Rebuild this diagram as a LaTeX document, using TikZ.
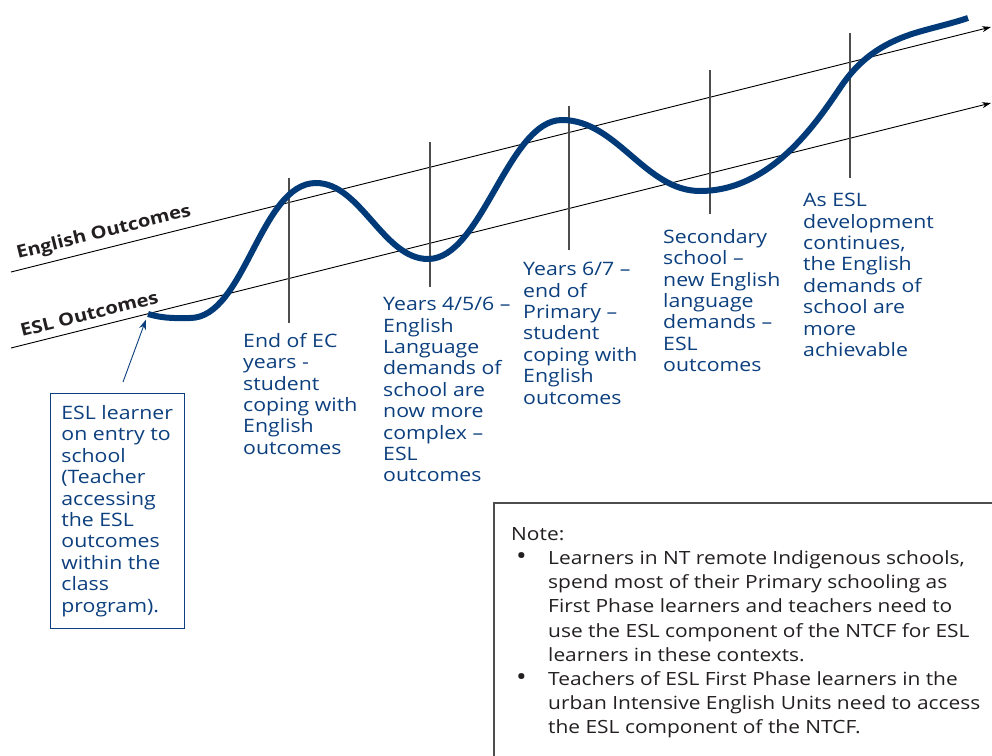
\documentclass[tikz,border=0pt]{standalone}
\usepackage{fontspec}
\setmainfont{Open Sans}[FakeStretch=1.15]
\usetikzlibrary{arrows.meta}
\definecolor{navy}{HTML}{003A78}
\definecolor{labelblue}{HTML}{0C3F7E}
\definecolor{inkgray}{HTML}{231F20}
\definecolor{rulegray}{HTML}{4D4D4D}
\newcommand{\notebullet}{\makebox[37pt][l]{\hspace*{5pt}\scalebox{1.35}{\textbullet}}}
\begin{document}
\begin{tikzpicture}[x=1pt,y=-1pt,
  stage/.style={anchor=north west, inner sep=0pt, align=left, text=labelblue,
    font=\fontsize{18.5}{21.4}\selectfont},
  outcome/.style={draw=black, line width=0.9pt, -{Stealth[length=9pt,width=6pt]}},
  tick/.style={draw=rulegray, line width=1.2pt},
  axislabel/.style={font=\bfseries\fontsize{17.5}{20}\selectfont, text=inkgray,
    rotate=14, anchor=base west, inner sep=0pt},
  growth/.style={draw=navy, line width=6pt, line cap=butt},
]
\useasboundingbox (0,0) rectangle (992,755);
\clip (0,0) rectangle (992,755);

% outcome reference lines
\coordinate (engL) at (11,272);
\coordinate (engR) at (991,27);
\coordinate (eslL) at (11,348);
\coordinate (eslR) at (991,103);
\draw[outcome] (engL) -- (engR);
\draw[outcome] (eslL) -- (eslR);
\node[axislabel] (englbl) at (18,259) {English Outcomes};
\node[axislabel] (esllbl) at (22,337) {ESL Outcomes};

% stage markers
\draw[tick] (289,178) -- (289,323);
\draw[tick] (430,142) -- (430,287);
\draw[tick] (569,106) -- (569,250);
\draw[tick] (710,70) -- (710,214);
\draw[tick] (850,33) -- (850,178);

% learner's progress curve
\coordinate (cstart) at (148,314);
\draw[growth] (cstart) .. controls (165,319) and (178,318) .. (190,318)
  .. controls (245,318) and (260,183) .. (316,183)
  .. controls (361,183) and (383,259) .. (428,259)
  .. controls (482,259) and (508,120) .. (562,120)
  .. controls (617,120) and (645,191) .. (700,191)
  .. controls (770,191) and (815,125) .. (840,88)
  .. controls (858,61) and (880,44) .. (915,33)
  .. controls (935,27) and (950,24) .. (968,18);

% stage descriptions
\node[stage] (s1) at (243,333) {End of EC\\years -\\student\\coping with\\English\\outcomes};
\node[stage] (s2) at (383,297) {Years 4/5/6 –\\English\\Language\\demands of\\school are\\now more\\complex –\\ESL\\outcomes};
\node[stage] (s3) at (523,262) {Years 6/7 –\\end of\\Primary –\\student\\coping with\\English\\outcomes};
\node[stage] (s4) at (663,229) {Secondary\\school –\\new English\\language\\demands –\\ESL\\outcomes};
\node[stage] (s5) at (803,193) {As ESL\\development\\continues,\\the English\\demands of\\school are\\more\\achievable};

% entry box
\node[stage, draw=labelblue, line width=0.8pt, anchor=north west,
  inner xsep=11pt, inner ysep=10pt, minimum height=235pt]
  (entry) at (50,393) {ESL learner\\on entry to\\school\\(Teacher\\accessing\\the ESL\\outcomes\\within the\\class\\program).};
\coordinate (atail) at (123,382);
\draw[draw=labelblue, line width=0.9pt, -{Stealth[length=10pt,width=7pt]}, shorten >=6pt] (atail) -- (cstart);

% note panel
\draw[draw=rulegray, line width=1.5pt] (1000,503) -- (494,503) -- (494,760);
\node[anchor=north west, inner sep=0pt, align=left, text=inkgray,
  font=\fontsize{18.2}{24.2}\selectfont] (note) at (511,527)
  {Note:\\
   \notebullet Learners in NT remote Indigenous schools,\\
   \hspace*{37pt}spend most of their Primary schooling as\\
   \hspace*{37pt}First Phase learners and teachers need to\\
   \hspace*{37pt}use the ESL component of the NTCF for ESL\\
   \hspace*{37pt}learners in these contexts.\\
   \notebullet Teachers of ESL First Phase learners in the\\
   \hspace*{37pt}urban Intensive English Units need to access\\
   \hspace*{37pt}the ESL component of the NTCF.};
\end{tikzpicture}
\end{document}
